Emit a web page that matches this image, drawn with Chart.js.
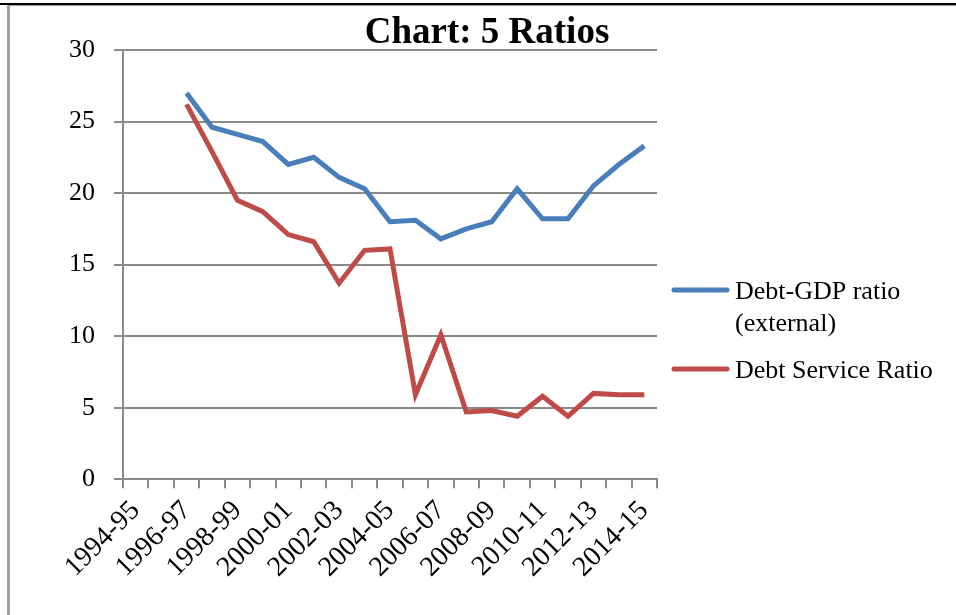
<!DOCTYPE html>
<html>
<head>
<meta charset="utf-8">
<title>Chart: 5 Ratios</title>
<script src="https://cdn.jsdelivr.net/npm/chart.js@4.4.1/dist/chart.umd.min.js"></script>
<style>
  body { margin: 0; background: #fff; }
  #wrap { position: relative; width: 956px; height: 615px; }
  #topline { position: absolute; left: 0; top: 3px; width: 956px; height: 2px; background: #000; }
  #frame { position: absolute; left: 7px; top: 5px; width: 949px; height: 610px;
           border-top: 1px solid #999; border-left: 3px solid #a0a0a0; box-sizing: border-box; }
</style>
</head>
<body>
<div id="wrap">
  <canvas id="ratio_chart" width="956" height="615"></canvas>
  <div id="topline"></div>
  <div id="frame"></div>
</div>
<script>
const years = ['1994-95','1995-96','1996-97','1997-98','1998-99','1999-00','2000-01',
  '2001-02','2002-03','2003-04','2004-05','2005-06','2006-07','2007-08','2008-09',
  '2009-10','2010-11','2011-12','2012-13','2013-14','2014-15'];
const debtGdp = [null, null, 27.0, 24.6, 24.1, 23.6, 22.0, 22.5, 21.1, 20.3, 18.0,
  18.1, 16.8, 17.5, 18.0, 20.3, 18.2, 18.2, 20.5, 22.0, 23.3];
const debtService = [null, null, 26.2, 22.9, 19.5, 18.7, 17.1, 16.6, 13.7, 16.0, 16.1,
  5.9, 10.1, 4.7, 4.8, 4.4, 5.8, 4.4, 6.0, 5.9, 5.9];
const seriesNames = [['Debt-GDP ratio', '(external)'], ['Debt Service Ratio']];
const chartTitle = 'Chart: 5 Ratios';

const blue = '#4A7EBB';
const red = '#BE4B48';
const gridGray = '#8a8a8a';

// title + legend drawn by hand (legend text wraps onto two lines)
const sidePlugin = {
  id: 'sideLegend',
  afterDraw(chart) {
    const c = chart.ctx, a = chart.chartArea;
    c.save();
    c.fillStyle = '#000';
    c.font = 'bold 37px "Liberation Serif"';
    c.textAlign = 'center';
    c.textBaseline = 'alphabetic';
    c.fillText(chartTitle, 487, 43);

    c.font = '26px "Liberation Serif"';
    c.textAlign = 'left';
    const colors = [blue, red];
    const rowY = [a.top + 240, a.top + 319];
    seriesNames.forEach((lines, k) => {
      c.strokeStyle = colors[k];
      c.lineWidth = 5;
      c.lineCap = 'round';
      c.beginPath();
      c.moveTo(a.right + 17, rowY[k]);
      c.lineTo(a.right + 70, rowY[k]);
      c.stroke();
      lines.forEach((t, j) => c.fillText(t, a.right + 78, rowY[k] + 9 + j * 32));
    });
    c.restore();
  }
};

const ctx = document.getElementById('ratio_chart').getContext('2d');
const chart = new Chart(ctx, {
  type: 'line',
  data: {
    labels: years,
    datasets: [{
      label: seriesNames[0].join(' '),
      data: debtGdp,
      borderColor: blue,
      backgroundColor: blue,
      borderWidth: 5,
      pointRadius: 0,
      tension: 0
    }, {
      label: seriesNames[1].join(' '),
      data: debtService,
      borderColor: red,
      backgroundColor: red,
      borderWidth: 5,
      pointRadius: 0,
      tension: 0
    }]
  },
  options: {
    responsive: false,
    animation: false,
    layout: { padding: { left: 50, right: 299, top: 50, bottom: 25 } },
    plugins: {
      legend: { display: false },
      title: { display: false },
      tooltip: { enabled: false }
    },
    scales: {
      x: {
        offset: true,
        grid: { offset: true, drawOnChartArea: false, color: gridGray, lineWidth: 2, tickLength: 9 },
        border: { color: gridGray, width: 2 },
        ticks: {
          autoSkip: false,
          maxRotation: 45,
          minRotation: 45,
          color: '#000',
          font: { family: 'Liberation Serif', size: 28 },
          padding: 6,
          callback: function (v, i) { return i % 2 === 0 ? years[i] : ''; }
        }
      },
      y: {
        min: 0,
        max: 30,
        ticks: { stepSize: 5, color: '#000', padding: 19, font: { family: 'Liberation Serif', size: 26 } },
        grid: { color: gridGray, lineWidth: 2, tickLength: 9 },
        border: { color: gridGray, width: 2 }
      }
    }
  },
  plugins: [sidePlugin]
});
</script>
</body>
</html>
